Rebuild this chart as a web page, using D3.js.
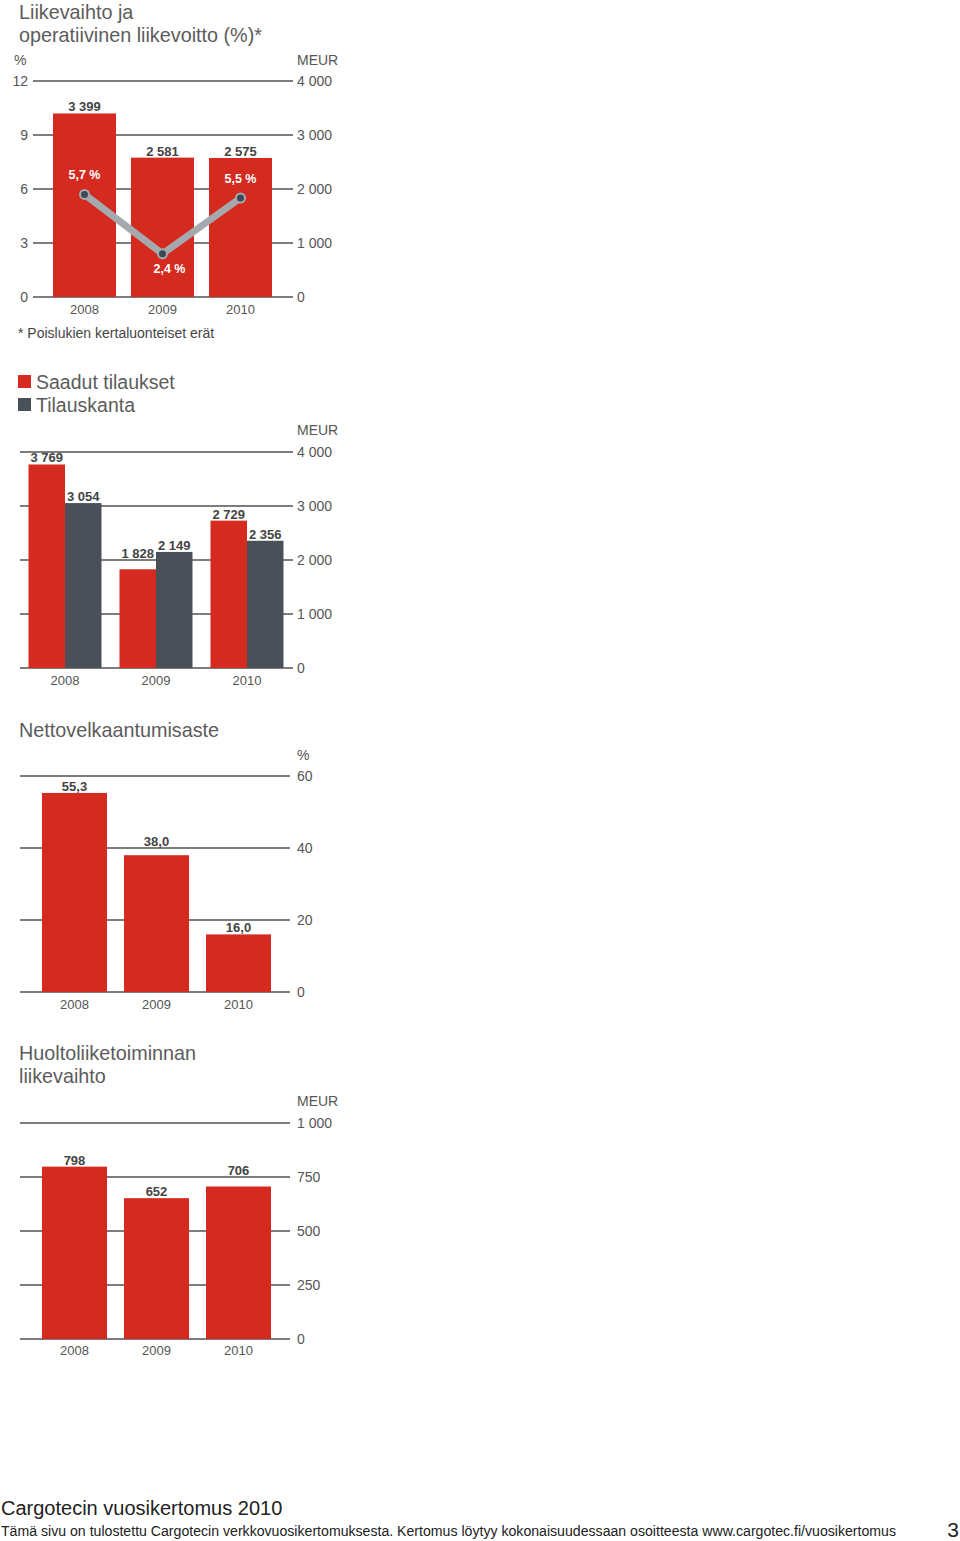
<!DOCTYPE html>
<html>
<head>
<meta charset="utf-8">
<script src="https://cdn.jsdelivr.net/npm/d3@7"></script>
<style>
  body { margin: 0; background: #fff; }
  svg { display: block; }
  text { font-family: "Liberation Sans", Arial, sans-serif; }
</style>
</head>
<body>
<div id="page"></div>
<script>
// data
var years = ["2008", "2009", "2010"];

var salesMeur = [3399, 2581, 2575];          // liikevaihto
var opProfitPct = [5.7, 2.4, 5.5];           // operatiivinen liikevoitto %
var salesTicks = [0, 1000, 2000, 3000, 4000];
var pctTicks = [0, 3, 6, 9, 12];

var ordersSeries = ["Saadut tilaukset", "Tilauskanta"];
var ordersReceived = [3769, 1828, 2729];
var orderBook = [3054, 2149, 2356];
var ordersTicks = [0, 1000, 2000, 3000, 4000];

var gearing = [55.3, 38.0, 16.0];
var gearingTicks = [0, 20, 40, 60];

var serviceSales = [798, 652, 706];
var serviceTicks = [0, 250, 500, 750, 1000];

var red = "#d42a1f",
    dark = "#4a5058",
    grid = "#7d7d7d",
    labelGray = "#555",
    titleGray = "#5c5c5c";

var width = 960, height = 1541;

var svg = d3.select("#page").append("svg")
    .attr("width", width)
    .attr("height", height);

var fmtSpace = function(v) { return d3.format(",")(v).replace(/,/g, " "); };   // 4 000
var fmtComma = function(v) { return d3.format(".1f")(v).replace(".", ","); };  // 55,3

// band scale with half-size outer padding
function band(r, p) {
  return d3.scaleBand().domain(years).range(r).paddingInner(p).paddingOuter(p / 2);
}

// value label sits just above the bar, unless it would sit on a gridline
function labelY(top, gridYs) {
  var c = top - 6.5;
  gridYs.forEach(function(g) { if (Math.abs(c - g) <= 4) c = g - 7; });
  return c + 4.5;
}

function title(lines, x, y0) {
  lines.forEach(function(t, i) {
    svg.append("text").attr("x", x).attr("y", y0 + i * 23)
      .attr("font-size", 19.8).attr("fill", titleGray).text(t);
  });
}

function gridAndRight(y, ticks, x0, x1, fmt, unit, unitY) {
  svg.append("g").selectAll("line").data(ticks).enter().append("line")
    .attr("x1", x0).attr("x2", x1)
    .attr("y1", function(d) { return y(d); })
    .attr("y2", function(d) { return y(d); })
    .attr("stroke", grid).attr("stroke-width", 2);
  svg.append("g").selectAll("text").data(ticks).enter().append("text")
    .attr("x", 297).attr("y", function(d) { return y(d) + 5; })
    .attr("font-size", 14).attr("fill", labelGray)
    .text(fmt);
  svg.append("text").attr("x", 297).attr("y", unitY)
    .attr("font-size", 14).attr("fill", labelGray).text(unit);
}

function yearLabels(x, yPos) {
  svg.append("g").selectAll("text").data(years).enter().append("text")
    .attr("x", function(d) { return x(d) + x.bandwidth() / 2; })
    .attr("y", yPos)
    .attr("text-anchor", "middle").attr("font-size", 13).attr("fill", labelGray)
    .text(function(d) { return d; });
}

// ---------- 1. Liikevaihto ja operatiivinen liikevoitto ----------
title(["Liikevaihto ja", "operatiivinen liikevoitto (%)*"], 19, 19);

var x1 = band([45.5, 279.5], 15 / 78);
var y1 = d3.scaleLinear().domain([0, 4000]).range([297, 81]);
var y1p = d3.scaleLinear().domain([0, 12]).range([297, 81]);

gridAndRight(y1, salesTicks, 33, 293, fmtSpace, "MEUR", 65);
svg.append("g").selectAll("text").data(pctTicks).enter().append("text")
  .attr("x", 28).attr("y", function(d) { return y1p(d) + 5; })
  .attr("text-anchor", "end").attr("font-size", 14).attr("fill", labelGray)
  .text(function(d) { return d; });
svg.append("text").attr("x", 14).attr("y", 65)
  .attr("font-size", 14).attr("fill", labelGray).text("%");

svg.append("g").selectAll("rect").data(salesMeur).enter().append("rect")
  .attr("x", function(d, i) { return x1(years[i]); })
  .attr("y", function(d) { return y1(d); })
  .attr("width", x1.bandwidth())
  .attr("height", function(d) { return y1(0) - y1(d); })
  .attr("fill", red);

svg.append("g").selectAll("text").data(salesMeur).enter().append("text")
  .attr("x", function(d, i) { return x1(years[i]) + x1.bandwidth() / 2; })
  .attr("y", function(d) { return labelY(y1(d), salesTicks.map(y1)); })
  .attr("text-anchor", "middle").attr("font-size", 13).attr("font-weight", "bold")
  .attr("fill", "#444").text(fmtSpace);

var cx1 = function(d, i) { return x1(years[i]) + x1.bandwidth() / 2; };
var line = d3.line()
  .x(function(d, i) { return cx1(d, i); })
  .y(function(d) { return y1p(d); });

svg.append("path").datum(opProfitPct)
  .attr("d", line).attr("fill", "none")
  .attr("stroke", "#a5a9ad").attr("stroke-width", 7).attr("stroke-linejoin", "round");

svg.append("g").selectAll("circle").data(opProfitPct).enter().append("circle")
  .attr("cx", cx1).attr("cy", function(d) { return y1p(d); })
  .attr("r", 4.5).attr("fill", "#3c4956")
  .attr("stroke", "#a5a9ad").attr("stroke-width", 2);

// the low point gets its label below the dot
svg.append("g").selectAll("text").data(opProfitPct).enter().append("text")
  .attr("x", function(d, i) {
    var low = d === d3.min(opProfitPct);
    return cx1(d, i) + (low ? 7 : 0);
  })
  .attr("y", function(d) {
    var low = d === d3.min(opProfitPct);
    return low ? y1p(d) + 19 : y1p(d) - 15;
  })
  .attr("text-anchor", "middle").attr("font-size", 12.5).attr("font-weight", "bold")
  .attr("fill", "#fff").text(function(d) { return fmtComma(d) + " %"; });

yearLabels(x1, 314);

svg.append("text").attr("x", 18).attr("y", 338)
  .attr("font-size", 14).attr("fill", "#444")
  .text("* Poislukien kertaluonteiset erät");

// ---------- 2. Saadut tilaukset / Tilauskanta ----------
[red, dark].forEach(function(c, i) {
  svg.append("rect").attr("x", 18).attr("y", 375 + i * 23)
    .attr("width", 13).attr("height", 13).attr("fill", c);
  svg.append("text").attr("x", 36).attr("y", 389 + i * 23)
    .attr("font-size", 19.5).attr("fill", titleGray).text(ordersSeries[i]);
});

var x2 = band([19.5, 292.5], 18 / 91);
var x2s = d3.scaleBand().domain(ordersSeries).range([0, x2.bandwidth()]);
var y2 = d3.scaleLinear().domain([0, 4000]).range([668, 452]);

gridAndRight(y2, ordersTicks, 20, 293, fmtSpace, "MEUR", 435);

var orderRows = years.map(function(yr, i) {
  return [
    { year: yr, s: ordersSeries[0], v: ordersReceived[i] },
    { year: yr, s: ordersSeries[1], v: orderBook[i] }
  ];
});

var g2 = svg.append("g").selectAll("g").data(orderRows).enter().append("g")
  .attr("transform", function(d) { return "translate(" + x2(d[0].year) + ",0)"; });

g2.selectAll("rect").data(function(d) { return d; }).enter().append("rect")
  .attr("x", function(d) { return x2s(d.s); })
  .attr("y", function(d) { return y2(d.v); })
  .attr("width", x2s.bandwidth())
  .attr("height", function(d) { return y2(0) - y2(d.v); })
  .attr("fill", function(d, i) { return i === 0 ? red : dark; });

g2.selectAll("text").data(function(d) { return d; }).enter().append("text")
  .attr("x", function(d) { return x2s(d.s) + x2s.bandwidth() / 2; })
  .attr("y", function(d) { return labelY(y2(d.v), ordersTicks.map(y2)); })
  .attr("text-anchor", "middle").attr("font-size", 13).attr("font-weight", "bold")
  .attr("fill", "#444").text(function(d) { return fmtSpace(d.v); });

yearLabels(x2, 685);

// ---------- 3. Nettovelkaantumisaste ----------
title(["Nettovelkaantumisaste"], 19, 737);

var x3 = band([33.5, 279.5], 17 / 82);
var y3 = d3.scaleLinear().domain([0, 60]).range([992, 776]);

gridAndRight(y3, gearingTicks, 20, 290, function(d) { return d; }, "%", 760);

svg.append("g").selectAll("rect").data(gearing).enter().append("rect")
  .attr("x", function(d, i) { return x3(years[i]); })
  .attr("y", function(d) { return y3(d); })
  .attr("width", x3.bandwidth())
  .attr("height", function(d) { return y3(0) - y3(d); })
  .attr("fill", red);

svg.append("g").selectAll("text").data(gearing).enter().append("text")
  .attr("x", function(d, i) { return x3(years[i]) + x3.bandwidth() / 2; })
  .attr("y", function(d) { return labelY(y3(d), gearingTicks.map(y3)); })
  .attr("text-anchor", "middle").attr("font-size", 13).attr("font-weight", "bold")
  .attr("fill", "#444").text(fmtComma);

yearLabels(x3, 1009);

// ---------- 4. Huoltoliiketoiminnan liikevaihto ----------
title(["Huoltoliiketoiminnan", "liikevaihto"], 19, 1060);

var y4 = d3.scaleLinear().domain([0, 1000]).range([1339, 1123]);

gridAndRight(y4, serviceTicks, 20, 290, fmtSpace, "MEUR", 1106);

svg.append("g").selectAll("rect").data(serviceSales).enter().append("rect")
  .attr("x", function(d, i) { return x3(years[i]); })
  .attr("y", function(d) { return y4(d); })
  .attr("width", x3.bandwidth())
  .attr("height", function(d) { return y4(0) - y4(d); })
  .attr("fill", red);

svg.append("g").selectAll("text").data(serviceSales).enter().append("text")
  .attr("x", function(d, i) { return x3(years[i]) + x3.bandwidth() / 2; })
  .attr("y", function(d) { return labelY(y4(d), serviceTicks.map(y4)); })
  .attr("text-anchor", "middle").attr("font-size", 13).attr("font-weight", "bold")
  .attr("fill", "#444").text(fmtSpace);

yearLabels(x3, 1355);

// ---------- footer ----------
svg.append("text").attr("x", 1).attr("y", 1515)
  .attr("font-size", 20).attr("fill", "#222")
  .text("Cargotecin vuosikertomus 2010");
svg.append("text").attr("x", 1).attr("y", 1536)
  .attr("font-size", 14).attr("fill", "#222")
  .attr("textLength", 895).attr("lengthAdjust", "spacingAndGlyphs")
  .text("Tämä sivu on tulostettu Cargotecin verkkovuosikertomuksesta. Kertomus löytyy kokonaisuudessaan osoitteesta www.cargotec.fi/vuosikertomus");
svg.append("text").attr("x", 959).attr("y", 1537)
  .attr("text-anchor", "end").attr("font-size", 21).attr("fill", "#222")
  .text("3");
</script>
</body>
</html>
